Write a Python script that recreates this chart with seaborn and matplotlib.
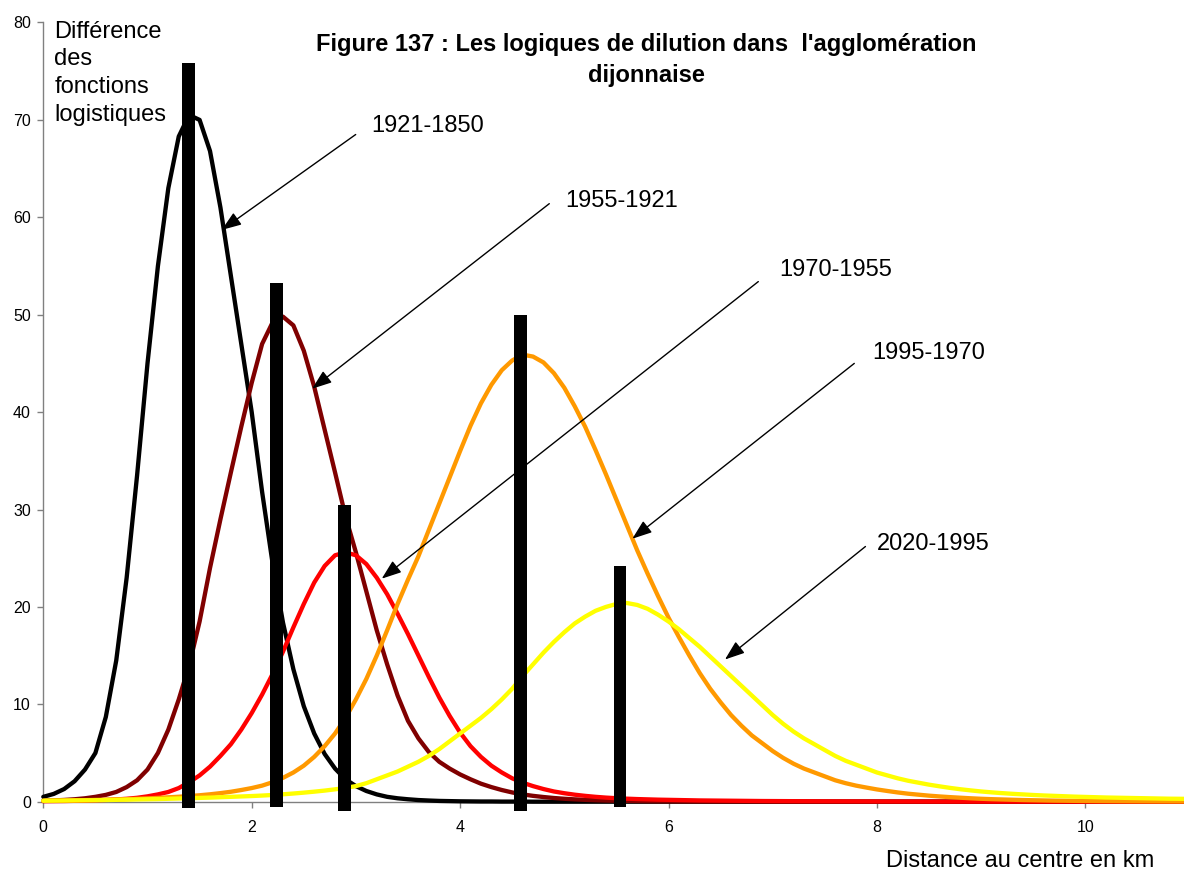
import numpy as np
import pandas as pd
import matplotlib
matplotlib.use("Agg")
import matplotlib.pyplot as plt
import seaborn as sns

# ---------------- data ----------------
distance_km = np.round(np.arange(0, 111) * 0.1, 1)   # 0.0 .. 11.0 km

periods = ["1921-1850", "1955-1921", "1970-1955", "1995-1970", "2020-1995"]

diff_1921_1850 = [
    0.5, 0.8, 1.3, 2.1, 3.3, 5.0, 8.7, 14.5, 23.0, 33.5,
    45.0, 55.0, 63.0, 68.3, 70.5, 70.0, 66.8, 61.0, 54.0, 47.0,
    40.0, 31.8, 24.5, 18.4, 13.6, 9.8, 7.0, 4.9, 3.4, 2.3,
    1.6, 1.1, 0.75, 0.5, 0.35, 0.25, 0.17, 0.12, 0.08, 0.06,
    0.04, 0.03, 0.02, 0.02, 0.01, 0.01, 0.01, 0.0, 0.0, 0.0,
    0.0, 0.0, 0.0, 0.0, 0.0, 0.0, 0.0, 0.0, 0.0, 0.0,
    0.0, 0.0, 0.0, 0.0, 0.0, 0.0, 0.0, 0.0, 0.0, 0.0,
    0.0, 0.0, 0.0, 0.0, 0.0, 0.0, 0.0, 0.0, 0.0, 0.0,
    0.0, 0.0, 0.0, 0.0, 0.0, 0.0, 0.0, 0.0, 0.0, 0.0,
    0.0, 0.0, 0.0, 0.0, 0.0, 0.0, 0.0, 0.0, 0.0, 0.0,
    0.0, 0.0, 0.0, 0.0, 0.0, 0.0, 0.0, 0.0, 0.0, 0.0,
    0.0,
]

diff_1955_1921 = [
    0.10, 0.13, 0.18, 0.25, 0.35, 0.50, 0.70, 1.00, 1.50, 2.20,
    3.3, 5.0, 7.4, 10.5, 14.0, 18.5, 24.0, 29.0, 33.8, 38.5,
    43.0, 47.0, 49.2, 49.8, 48.9, 46.3, 42.6, 38.2, 33.8, 29.3,
    25.6, 21.6, 17.6, 14.1, 10.9, 8.3, 6.5, 5.1, 4.1, 3.4,
    2.8, 2.3, 1.85, 1.5, 1.2, 0.95, 0.75, 0.6, 0.48, 0.38,
    0.30, 0.24, 0.19, 0.15, 0.12, 0.10, 0.08, 0.065, 0.05, 0.04,
    0.035, 0.03, 0.025, 0.02, 0.015, 0.01, 0.01, 0.01, 0.01, 0.01,
    0.0, 0.0, 0.0, 0.0, 0.0, 0.0, 0.0, 0.0, 0.0, 0.0,
    0.0, 0.0, 0.0, 0.0, 0.0, 0.0, 0.0, 0.0, 0.0, 0.0,
    0.0, 0.0, 0.0, 0.0, 0.0, 0.0, 0.0, 0.0, 0.0, 0.0,
    0.0, 0.0, 0.0, 0.0, 0.0, 0.0, 0.0, 0.0, 0.0, 0.0,
    0.0,
]

diff_1970_1955 = [
    0.05, 0.06, 0.07, 0.09, 0.11, 0.14, 0.18, 0.23, 0.30, 0.40,
    0.55, 0.75, 1.0, 1.4, 2.0, 2.7, 3.6, 4.7, 5.9, 7.4,
    9.1, 11.0, 13.1, 15.4, 17.9, 20.3, 22.5, 24.2, 25.3, 25.6,
    25.3, 24.4, 23.0, 21.3, 19.3, 17.2, 15.0, 12.8, 10.7, 8.8,
    7.1, 5.7, 4.6, 3.7, 3.0, 2.4, 1.95, 1.6, 1.3, 1.05,
    0.87, 0.72, 0.60, 0.50, 0.42, 0.36, 0.31, 0.27, 0.24, 0.21,
    0.19, 0.17, 0.15, 0.13, 0.12, 0.11, 0.10, 0.09, 0.08, 0.07,
    0.065, 0.06, 0.055, 0.05, 0.045, 0.04, 0.037, 0.034, 0.031, 0.028,
    0.025, 0.022, 0.02, 0.018, 0.016, 0.014, 0.012, 0.011, 0.01, 0.009,
    0.008, 0.007, 0.006, 0.006, 0.005, 0.005, 0.004, 0.004, 0.003, 0.003,
    0.003, 0.002, 0.002, 0.002, 0.001, 0.001, 0.001, 0.0, 0.0, 0.0,
    0.0,
]

diff_1995_1970 = [
    0.10, 0.11, 0.12, 0.14, 0.16, 0.18, 0.20, 0.23, 0.26, 0.30,
    0.34, 0.39, 0.45, 0.51, 0.58, 0.66, 0.76, 0.88, 1.02, 1.2,
    1.4, 1.65, 2.0, 2.45, 3.0, 3.7, 4.6, 5.7, 7.0, 8.6,
    10.5, 12.6, 15.0, 17.6, 20.3, 22.8, 25.2, 27.9, 30.6, 33.3,
    36.0, 38.6, 40.9, 42.8, 44.3, 45.3, 45.9, 45.7, 45.1, 44.0,
    42.5, 40.6, 38.5, 36.1, 33.6, 31.0, 28.4, 25.8, 23.4, 21.1,
    18.9, 16.9, 15.0, 13.2, 11.6, 10.2, 8.9, 7.8, 6.8, 6.0,
    5.2, 4.5, 3.9, 3.4, 3.0, 2.6, 2.2, 1.9, 1.65, 1.45,
    1.26, 1.1, 0.95, 0.82, 0.72, 0.62, 0.54, 0.47, 0.41, 0.35,
    0.30, 0.26, 0.23, 0.20, 0.17, 0.15, 0.13, 0.11, 0.10, 0.085,
    0.075, 0.065, 0.056, 0.049, 0.042, 0.037, 0.032, 0.028, 0.024, 0.021,
    0.018,
]

diff_2020_1995 = [
    0.10, 0.11, 0.12, 0.13, 0.14, 0.15, 0.17, 0.19, 0.21, 0.23,
    0.25, 0.27, 0.30, 0.33, 0.36, 0.39, 0.42, 0.46, 0.50, 0.54,
    0.58, 0.63, 0.69, 0.76, 0.84, 0.93, 1.03, 1.14, 1.27, 1.42,
    1.6, 1.9, 2.3, 2.7, 3.1, 3.6, 4.1, 4.7, 5.4, 6.2,
    7.0, 7.8, 8.6, 9.5, 10.5, 11.6, 12.9, 14.1, 15.3, 16.4,
    17.4, 18.3, 19.0, 19.6, 20.0, 20.3, 20.4, 20.2, 19.8, 19.2,
    18.5, 17.7, 16.8, 15.9, 14.9, 13.9, 12.9, 11.9, 10.9, 9.9,
    8.9, 8.0, 7.2, 6.5, 5.9, 5.3, 4.7, 4.2, 3.8, 3.4,
    3.0, 2.7, 2.4, 2.15, 1.95, 1.75, 1.58, 1.42, 1.28, 1.16,
    1.05, 0.96, 0.88, 0.81, 0.75, 0.69, 0.64, 0.60, 0.56, 0.52,
    0.49, 0.46, 0.43, 0.41, 0.39, 0.37, 0.35, 0.33, 0.31, 0.30,
    0.29,
]

# vertical black bars
bar_distance = [1.395, 2.236, 2.89, 4.58, 5.535]
bar_top = [75.8, 53.3, 30.5, 50.0, 24.2]
bar_bottom = [-0.6, -0.5, -1.0, -1.0, -0.5]

x_ticks = [0, 2, 4, 6, 8, 10]
y_ticks = [0, 10, 20, 30, 40, 50, 60, 70, 80]

# ---------------- styles / positions ----------------
colors = ["#000000", "#800000", "#FF0000", "#FF9900", "#FFFF00"]
label_xy = [(3.15, 69.4), (5.007, 61.7), (7.063, 54.6), (7.956, 46.1), (7.998, 26.5)]
arrow_tail = [(2.998, 68.5), (4.856, 61.4), (6.862, 53.4), (7.783, 45.0), (7.89, 26.2)]
arrow_tip = [(1.712, 58.7), (2.58, 42.4), (3.248, 22.9), (5.653, 27.0), (6.542, 14.6)]

sns.set_theme(style="white")
plt.rcParams["font.family"] = ["Liberation Sans", "DejaVu Sans"]
plt.rcParams["text.color"] = "black"
plt.rcParams["axes.labelcolor"] = "black"
plt.rcParams["xtick.color"] = "black"
plt.rcParams["ytick.color"] = "black"

series = [diff_1921_1850, diff_1955_1921, diff_1970_1955, diff_1995_1970, diff_2020_1995]
df = pd.DataFrame({
    "distance": np.tile(distance_km, len(periods)),
    "value": np.concatenate([np.asarray(s, dtype=float) for s in series]),
    "period": np.repeat(periods, len(distance_km)),
})

fig = plt.figure(figsize=(11.84, 8.73), dpi=100, facecolor="white")
W, H = 1184.0, 873.0
x0_px, y0_px = 43.3, 801.7
px_per_x, px_per_y = 104.2, 9.74
ax = fig.add_axes([x0_px / W, (H - y0_px) / H, (W - x0_px) / W, 80 * px_per_y / H])

sns.lineplot(data=df, x="distance", y="value", hue="period", hue_order=periods,
             palette=colors, linewidth=3.1, legend=False, ax=ax)
for ln in ax.lines:
    ln.set_clip_on(False)
    ln.set_solid_joinstyle("round")

heights = np.array(bar_top) - np.array(bar_bottom)
ax.bar(bar_distance, heights, bottom=bar_bottom, width=0.12, color="black",
       linewidth=0, zorder=5, clip_on=False)

ax.set_xlim(0, (W - x0_px) / px_per_x)
ax.set_ylim(0, 80)
ax.set_xticks(x_ticks)
ax.set_yticks(y_ticks)
ax.set_xticklabels([str(t) for t in x_ticks])
ax.set_yticklabels([str(t) for t in y_ticks])

for side in ["top", "right"]:
    ax.spines[side].set_visible(False)
for side in ["left", "bottom"]:
    ax.spines[side].set_color("#808080")
    ax.spines[side].set_linewidth(1.0)
    ax.spines[side].set_zorder(1)

ax.tick_params(axis="both", which="major", bottom=True, left=True, direction="out",
               length=4, width=1, color="#808080", labelsize=11.5, labelcolor="black")
ax.tick_params(axis="x", pad=9)
ax.tick_params(axis="y", pad=5)

ax.set_xlabel("Distance au centre en km", fontsize=17, ha="left", va="center", color="black")
ax.xaxis.set_label_coords((886 - x0_px) / (W - x0_px), (y0_px - 861) / (80 * px_per_y))

ax.set_ylabel("Différence\ndes\nfonctions\nlogistiques", fontsize=17, rotation=0,
              ha="left", va="top", linespacing=1.35, color="black")
ax.yaxis.set_label_coords((54.3 - x0_px) / (W - x0_px), (y0_px - 20.5) / (80 * px_per_y))

fig.suptitle("Figure 137 : Les logiques de dilution dans  l'agglomération\ndijonnaise",
             x=646 / W, y=1 - 33.0 / H, ha="center", va="top", color="black",
             fontsize=17, fontweight="bold", linespacing=1.45)

for name, (tx, ty), tail, tip in zip(periods, label_xy, arrow_tail, arrow_tip):
    ax.text(tx, ty, name, fontsize=17, ha="left", va="center", color="black", zorder=7)
    ax.annotate("", xy=tip, xytext=tail,
                arrowprops=dict(arrowstyle="-|>,head_length=0.6,head_width=0.22",
                                color="black", lw=1.0, mutation_scale=20,
                                shrinkA=0, shrinkB=0),
                zorder=8, annotation_clip=False)

fig.savefig("out.png", dpi=100, facecolor="white")
